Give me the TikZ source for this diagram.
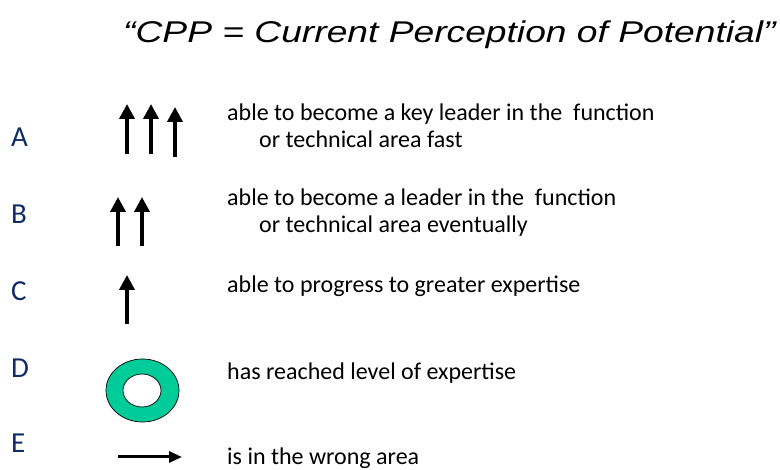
\documentclass[tikz,border=0pt]{standalone}
\usepackage{fontspec}
\setmainfont{Carlito}
\newfontfamily\titlefont{Liberation Sans}
\usetikzlibrary{arrows.meta}
\definecolor{gradenavy}{RGB}{16,44,104}
\definecolor{ringgreen}{RGB}{0,204,153}
\begin{document}
\begin{tikzpicture}[x=1pt,y=-1pt,
  grade/.style={anchor=base west,inner sep=0pt,text=gradenavy,font=\fontsize{29}{33}\selectfont},
  desc/.style={anchor=base west,inner sep=0pt,font=\fontsize{24}{27}\selectfont},
  uparrow/.style={line width=3.6pt,-{Triangle[width=15pt,length=15pt]}},
  sidearrow/.style={line width=3pt,-{Triangle[width=11pt,length=13pt]}}]
\useasboundingbox[fill=white] (0,0) rectangle (780,470);

% heading, set wide
\node[anchor=base west,inner sep=0pt,font=\titlefont\itshape\fontsize{30}{34}\selectfont]
  (title) at (123,43) {\scalebox{1.24}[1]{“CPP = Current Perception of Potential”}};

% grade letters
\node[grade] (lA) at (11,147) {A};
\node[grade] (lB) at (11,224) {B};
\node[grade] (lC) at (11,301) {C};
\node[grade] (lD) at (11,378) {D};
\node[grade] (lE) at (11,453) {E};

% symbols
\draw[uparrow] (127,154) -- (127,104);
\draw[uparrow] (151,154) -- (151,104);
\draw[uparrow] (175,157) -- (175,107);
\draw[uparrow] (118,246) -- (118,197);
\draw[uparrow] (142,246) -- (142,197);
\draw[uparrow] (127,324) -- (127,275);
\draw[fill=ringgreen,draw=black,line width=0.7pt,even odd rule]
  (142.5,390.5) ellipse [x radius=36.5,y radius=31.5]
  (142,390.5) ellipse [x radius=19,y radius=16.5];
\draw[sidearrow] (118,457) -- (182,457);

% descriptions
\node[desc] (tA1) at (227,121) {able to become a key leader in the\ \ function};
\node[desc] (tA2) at (259,148) {or technical area fast};
\node[desc] (tB1) at (227,206) {able to become a leader in the\ \ function};
\node[desc] (tB2) at (259,233) {or technical area eventually};
\node[desc] (tC) at (227,293) {able to progress to greater expertise};
\node[desc] (tD) at (227,380) {has reached level of expertise};
\node[desc] (tE) at (227,465) {is in the wrong area};
\end{tikzpicture}
\end{document}
